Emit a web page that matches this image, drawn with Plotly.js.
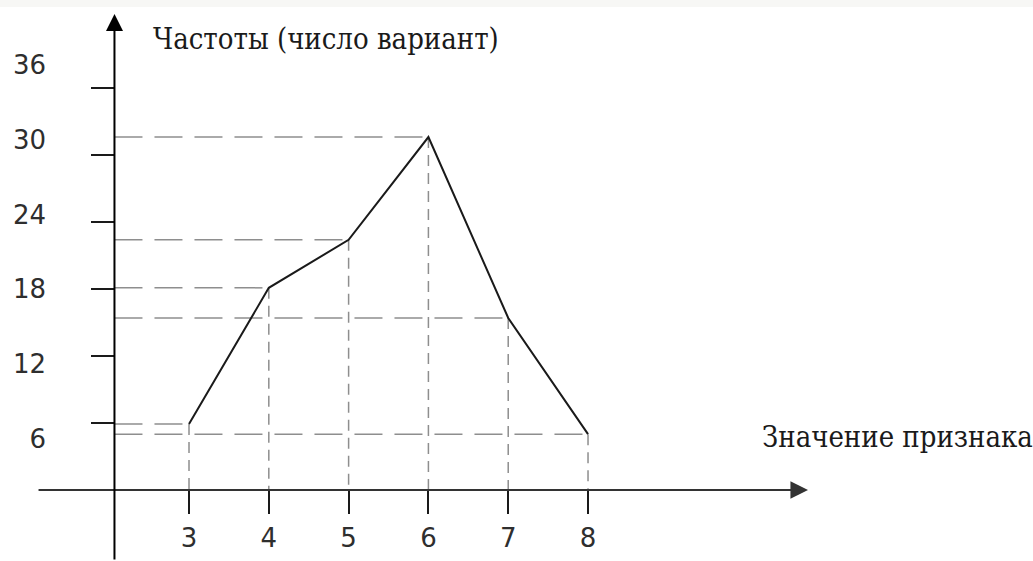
<!DOCTYPE html>
<html>
<head>
<meta charset="utf-8">
<script src="https://cdn.plot.ly/plotly-3.0.1.min.js"></script>
<style>html,body{margin:0;padding:0;background:#fff;}#chart{width:1033px;height:561px;}</style>
</head>
<body>
<div id="chart"></div>
<script>
// ---- data ----
const xValues = [3, 4, 5, 6, 7, 8];
const frequencies = [5.9, 18.1, 22.4, 31.6, 15.4, 5.0];
const xTickValues = [3, 4, 5, 6, 7, 8];
const yTickValues = [6, 12, 18, 24, 30, 36];
const yTickLabels = ['6', '12', '18', '24', '30', '36'];
const yAxisTitle = 'Частоты (число вариант)';
const xAxisTitle = 'Значение признака';

// ---- layout constants ----
const xRange = [0.6316, 13.576];
const yRange = [-6.356, 43.87];
const labelRange = [-3.786, 41.21];
const axisX = 2.066;          // where the vertical axis crosses (x units)
const axisXPaper = (axisX - xRange[0]) / (xRange[1] - xRange[0]);
const axisYPaper = (0 - yRange[0]) / (yRange[1] - yRange[0]);

const guideStyle = {color: '#8e8e8e', width: 1.5};
const traces = [];
xValues.forEach((xv, i) => {
  traces.push({x: [axisX, xv], y: [frequencies[i], frequencies[i]], mode: 'lines',
    line: Object.assign({dash: '28px,12px'}, guideStyle), hoverinfo: 'skip', showlegend: false});
  traces.push({x: [xv, xv], y: [frequencies[i], 0], mode: 'lines',
    line: Object.assign({dash: '11px,7px'}, guideStyle), hoverinfo: 'skip', showlegend: false});
});
traces.push({x: xValues, y: frequencies, mode: 'lines', line: {color: '#1a1a1a', width: 2},
  showlegend: false, hoverinfo: 'x+y'});
traces.push({x: [null], y: [null], yaxis: 'y2', showlegend: false, hoverinfo: 'skip'});

const tickFont = {family: 'DejaVu Sans, sans-serif', size: 26, color: '#2e2e2e'};
const titleFont = {family: 'DejaVu Serif Condensed, DejaVu Serif, serif', size: 29, color: '#1a1a1a'};

const layout = {
  width: 1033, height: 561,
  margin: {l: 0, r: 0, t: 0, b: 0},
  paper_bgcolor: '#ffffff', plot_bgcolor: '#ffffff',
  showlegend: false,
  xaxis: {range: xRange, domain: [0, 1], anchor: 'free', position: axisYPaper,
    showgrid: false, zeroline: false, showline: false,
    tickmode: 'array', tickvals: xTickValues, ticks: 'outside', ticklen: 23, tickwidth: 2,
    tickcolor: '#1a1a1a', tickfont: tickFont, ticklabelstandoff: 2},
  yaxis: {range: yRange, domain: [0, 1], anchor: 'free', position: axisXPaper,
    showgrid: false, zeroline: false, showline: false,
    tickmode: 'array', tickvals: yTickValues, ticks: 'outside', ticklen: 23, tickwidth: 2,
    tickcolor: '#1a1a1a', showticklabels: false},
  yaxis2: {range: labelRange, overlaying: 'y', anchor: 'free', position: 46 / 1033, side: 'left',
    showgrid: false, zeroline: false, showline: false, ticks: '',
    tickmode: 'array', tickvals: yTickValues, ticktext: yTickLabels, tickfont: tickFont},
  shapes: [
    {type: 'rect', xref: 'paper', yref: 'paper', x0: 0, x1: 1, y0: 1 - 7 / 561, y1: 1,
     fillcolor: '#f7f7f5', line: {width: 0}, layer: 'below'}
  ],
  annotations: [
    {xref: 'x', yref: 'y', x: 10.757, y: 0, ax: -771, ay: 0, text: '', showarrow: true,
     arrowhead: 2, arrowsize: 1.6, arrowwidth: 2.2, arrowcolor: '#333', standoff: 0},
    {xref: 'paper', yref: 'y', x: axisXPaper, y: 42.61, ax: 0, ay: 560, text: '', showarrow: true,
     arrowhead: 2, arrowsize: 1.7, arrowwidth: 2, arrowcolor: '#000', standoff: 0},
    {xref: 'paper', yref: 'paper', x: 151 / 1033, y: 1 - 39 / 561, xanchor: 'left', yanchor: 'middle',
     text: yAxisTitle, showarrow: false, font: titleFont},
    {xref: 'paper', yref: 'paper', x: 760 / 1033, y: 1 - 437 / 561, xanchor: 'left', yanchor: 'middle',
     text: xAxisTitle, showarrow: false, font: titleFont}
  ]
};
Plotly.newPlot('chart', traces, layout, {displayModeBar: false, staticPlot: true});
</script>
</body>
</html>
